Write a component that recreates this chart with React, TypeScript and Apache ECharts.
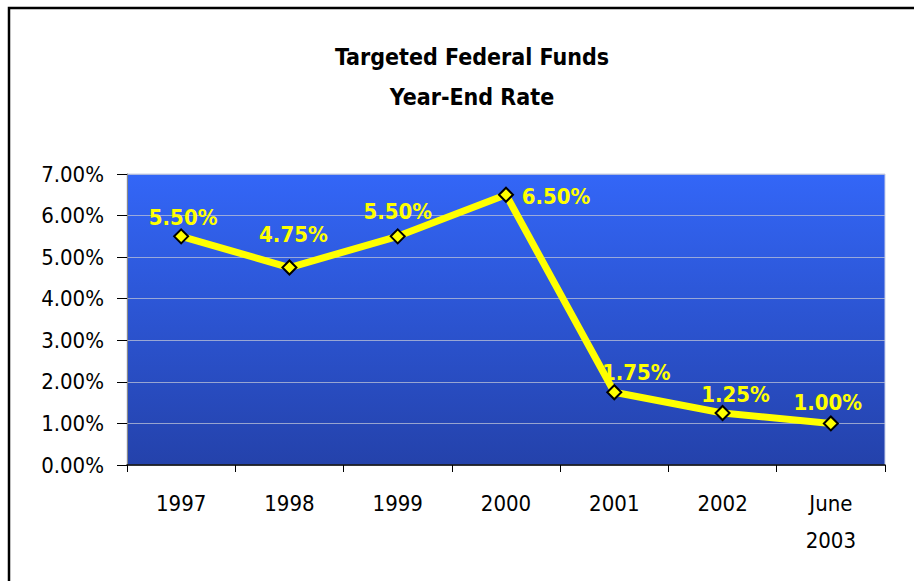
import React, { useEffect, useRef } from "react";
import * as echarts from "echarts";

const categories = ["1997", "1998", "1999", "2000", "2001", "2002", "June\n2003"];
const rates = [5.5, 4.75, 5.5, 6.5, 1.75, 1.25, 1.0];
const labelOffsets: [number, number][] = [
  [2, 5], [4, -9], [0, -1], [50, 26], [22, 4], [13, 5], [-3, 3],
];
const yTicks = { min: 0, max: 7, interval: 1 };
const titleLines = ["Targeted Federal Funds", "Year-End Rate"];

const FONT = "'DejaVu Sans Condensed', 'Open Sans', sans-serif";

export default function App() {
  const ref = useRef<HTMLDivElement>(null);
  useEffect(() => {
    if (!ref.current) return;
    const chart = echarts.init(ref.current, null, { renderer: "svg" });
    chart.setOption({
      animation: false,
      backgroundColor: "#ffffff",
      title: {
        text: titleLines.join("\n"),
        left: 467,
        top: 32,
        textAlign: "center",
        textStyle: {
          fontFamily: FONT,
          fontSize: 23,
          fontWeight: "bold",
          color: "#000",
          lineHeight: 40,
        },
      },
      graphic: [
        {
          type: "rect",
          shape: { x: 9, y: 8, width: 930, height: 620 },
          style: { fill: "none", stroke: "#000", lineWidth: 2.5 },
          silent: true,
        },
      ],
      grid: {
        left: 127,
        right: 29,
        top: 174,
        bottom: 116,
        show: true,
        borderColor: "#c8cfe8",
        borderWidth: 1,
        backgroundColor: new echarts.graphic.LinearGradient(0, 0, 0, 1, [
          { offset: 0, color: "#3366f7" },
          { offset: 1, color: "#2442ab" },
        ]),
      },
      xAxis: {
        type: "category",
        data: categories,
        boundaryGap: true,
        axisLine: { show: true, lineStyle: { color: "#000", width: 1.5 } },
        axisTick: { show: true, length: 7, lineStyle: { color: "#000" } },
        axisLabel: {
          color: "#000",
          fontFamily: FONT,
          fontSize: 22,
          lineHeight: 37,
          margin: 20,
        },
      },
      yAxis: {
        type: "value",
        min: yTicks.min,
        max: yTicks.max,
        interval: yTicks.interval,
        axisLine: { show: true, lineStyle: { color: "#888", width: 1 } },
        axisTick: { show: true, length: 10, lineStyle: { color: "#000" } },
        splitLine: { show: true, lineStyle: { color: "rgba(190,195,215,0.75)", width: 1 } },
        axisLabel: {
          color: "#000",
          fontFamily: FONT,
          fontSize: 22,
          margin: 23,
          formatter: (v: number) => v.toFixed(2) + "%",
        },
      },
      series: [
        {
          type: "line",
          data: rates.map((v, i) => ({
            value: v,
            label: {
              offset: labelOffsets[i],
            },
          })),
          lineStyle: { color: "#ffff00", width: 7 },
          symbol: "diamond",
          symbolSize: 14,
          itemStyle: { color: "#ffff00", borderColor: "#000", borderWidth: 2 },
          label: {
            show: true,
            position: "top",
            distance: 5,
            color: "#ffff00",
            fontFamily: FONT,
            fontSize: 22,
            fontWeight: "bold",
            formatter: (p: any) => p.value.toFixed(2) + "%",
          },
          z: 5,
        },
      ],
    });
    return () => chart.dispose();
  }, []);
  return (
    <div
      ref={ref}
      style={{ position: "fixed", left: 0, top: 0, width: 914, height: 581 }}
    />
  );
}
